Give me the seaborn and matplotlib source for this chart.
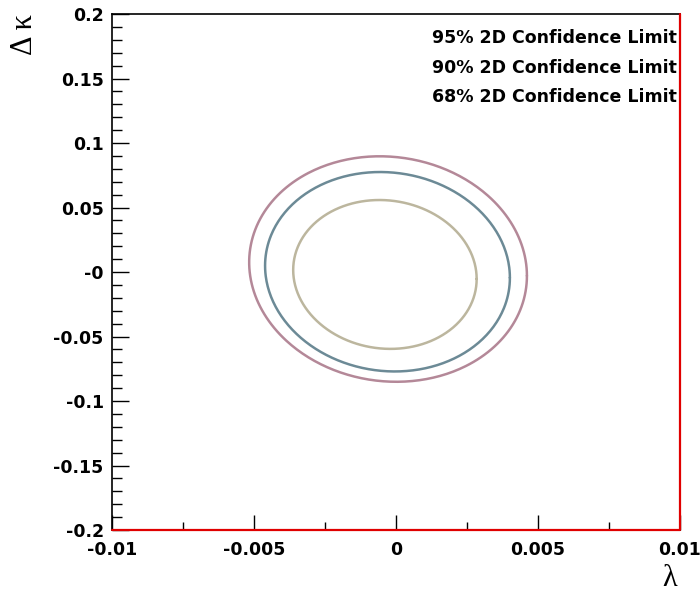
import numpy as np
import pandas as pd
import matplotlib
matplotlib.use("Agg")
import matplotlib.pyplot as plt
import seaborn as sns

# Confidence-limit contours in the (lambda, delta kappa) plane
levels = ["95% 2D Confidence Limit", "90% 2D Confidence Limit", "68% 2D Confidence Limit"]
center_lambda = [-0.00028, -0.00030, -0.00039]
center_dkappa = [0.0023, 0.0002, -0.0019]
half_width_lambda = [0.00489, 0.00431, 0.00323]
half_height_dkappa = [0.0874, 0.0773, 0.0577]
correlation = [-0.06, -0.06, -0.06]
colors = ["#b48898", "#6c8a96", "#bcb69e"]

x_ticks = [-0.01, -0.005, 0.0, 0.005, 0.01]
x_tick_labels = ["-0.01", "-0.005", "0", "0.005", "0.01"]
y_ticks = [0.2, 0.15, 0.1, 0.05, 0.0, -0.05, -0.1, -0.15, -0.2]
y_tick_labels = ["0.2", "0.15", "0.1", "0.05", "-0", "-0.05", "-0.1", "-0.15", "-0.2"]

# Trace each contour as a closed correlated ellipse
t = np.linspace(0, 2 * np.pi, 361)
frames = []
for lab, cx, cy, sx, sy, rho in zip(levels, center_lambda, center_dkappa,
                                    half_width_lambda, half_height_dkappa, correlation):
    xs = cx + sx * np.cos(t)
    ys = cy + sy * (rho * np.cos(t) + np.sqrt(1 - rho ** 2) * np.sin(t))
    frames.append(pd.DataFrame({"lam": xs, "dk": ys, "level": lab}))
df = pd.concat(frames, ignore_index=True)

sns.set_style("white")
fig = plt.figure(figsize=(7.0, 5.96), dpi=100)
ax = fig.add_axes([112 / 700, 66 / 596, 568 / 700, 516 / 596])

sns.lineplot(data=df, x="lam", y="dk", hue="level", palette=dict(zip(levels, colors)),
             sort=False, estimator=None, units="level", lw=1.8, legend=False, ax=ax)

ax.set_xlim(-0.01, 0.01)
ax.set_ylim(-0.2, 0.2)
ax.set_xlabel("")
ax.set_ylabel("")

tick_font = dict(family="DejaVu Sans", weight="bold", size=12.5, color="black")
ax.set_xticks(x_ticks)
ax.set_xticklabels(x_tick_labels, fontdict=tick_font)
ax.set_yticks(y_ticks)
ax.set_yticklabels(y_tick_labels, fontdict=tick_font)
ax.set_xticks(np.arange(-0.01, 0.0101, 0.0025), minor=True)
ax.set_yticks(np.arange(-0.2, 0.2001, 0.01), minor=True)
ax.tick_params(axis="both", which="both", direction="in", color="black",
               top=False, right=False, bottom=True, left=True)
ax.tick_params(axis="x", which="major", length=11, width=1, pad=8)
ax.tick_params(axis="x", which="minor", length=6, width=1)
ax.tick_params(axis="y", which="major", length=12, width=1, pad=6)
ax.tick_params(axis="y", which="minor", length=7, width=1)

for side in ["left", "top", "bottom", "right"]:
    ax.spines[side].set_visible(True)
    ax.spines[side].set_color("black")
    ax.spines[side].set_linewidth(1.2)

# Histogram frame edge along the bottom and right borders
ax.plot([-0.01, 0.01, 0.01], [-0.2, -0.2, 0.2], color="#e00000", lw=1.6,
        clip_on=False, zorder=5)

# Text-only legend
for i, lab in enumerate(levels):
    ax.text(0.5634, 0.9535 - i * 0.0573, lab, transform=ax.transAxes,
            ha="left", va="center", family="DejaVu Sans", weight="bold",
            size=12.5, color="black")

fig.text(670 / 700, 1 - 578 / 596, "λ", ha="center", va="center",
         family="Liberation Serif", size=22, color="black")
fig.text(24 / 700, 1 - 35 / 596, "Δ κ", ha="center", va="center", rotation=90,
         family="Liberation Serif", size=22, color="black")

fig.savefig("out.png", dpi=100)
